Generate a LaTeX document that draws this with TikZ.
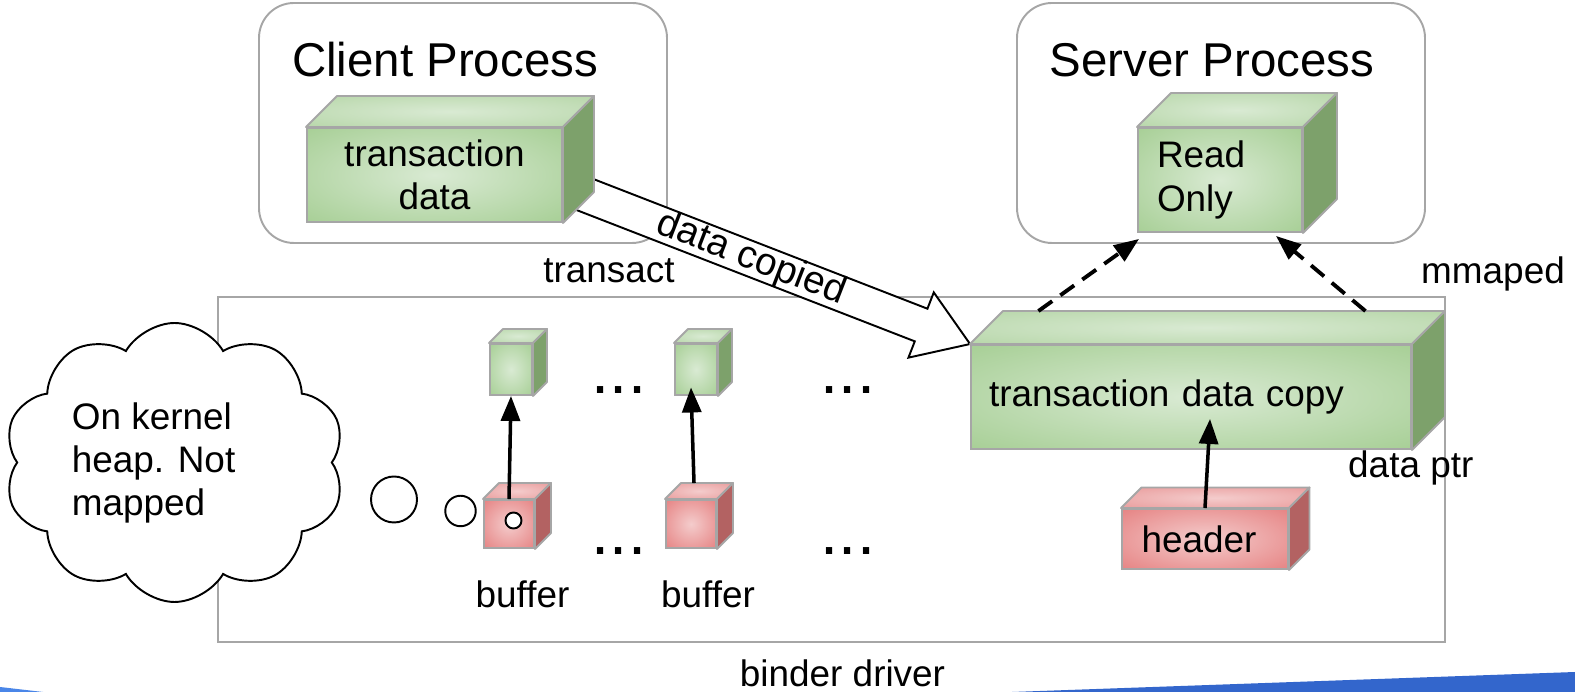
\documentclass[tikz,border=0pt]{standalone}
\usepackage{fontspec}
\setmainfont{Liberation Sans}
\usetikzlibrary{calc,positioning,shapes.symbols,arrows.meta}
\tikzset{>={Triangle[length=0.5cm,width=0.38cm]}}

\definecolor{edgegray}{HTML}{A6A6A6}
\definecolor{greenedge}{HTML}{93C47D}
\definecolor{greenmid}{HTML}{D9EAD3}
\definecolor{greentopedge}{HTML}{AACF99}
\definecolor{greenside}{HTML}{7DA16B}
\definecolor{rededge}{HTML}{E06666}
\definecolor{redmid}{HTML}{F4CCCC}
\definecolor{redtopedge}{HTML}{E58A8A}
\definecolor{redside}{HTML}{B36262}
\definecolor{barblue}{HTML}{3366CC}
\definecolor{barlight}{HTML}{4A86E8}

% soft glow on the faces of the boxes
\pgfdeclareradialshading{greenface}{\pgfpointorigin}{color(0bp)=(greenmid); color(50bp)=(greenedge)}
\pgfdeclareradialshading{greentop}{\pgfpointorigin}{color(0bp)=(greenmid); color(50bp)=(greentopedge)}
\pgfdeclareradialshading{redface}{\pgfpointorigin}{color(0bp)=(redmid); color(50bp)=(rededge)}
\pgfdeclareradialshading{redtop}{\pgfpointorigin}{color(0bp)=(redmid); color(50bp)=(redtopedge)}

\tikzset{
  every node/.style={font=\fontsize{21}{24.5}\selectfont},
  title/.style={font=\fontsize{27}{32}\selectfont},
  procbox/.style={draw=edgegray, line width=1.1pt, rounded corners=0.7cm,
    minimum width=8.16cm, minimum height=4.8cm},
  cubeedge/.style={draw=edgegray, line width=1.1pt, line join=round},
  cubefront/.style={shade, shading=#1face, draw=edgegray, line width=1.1pt,
    inner sep=0, align=center},
  heap/.style={cloud, draw=black, fill=white, line width=1.1pt, cloud puffs=10,
    cloud puff arc=120, aspect=1.22, minimum width=6.82cm, minimum height=5.58cm, inner sep=0},
  bubble/.style={circle, draw=black, fill=white, line width=1.1pt, inner sep=0},
  copyarrow/.style={draw=black, fill=white, line width=1.1pt},
  ptr/.style={->, line width=2pt},
  mapline/.style={->, line width=2.2pt, dash pattern=on 0.34cm off 0.2cm},
  more/.style={font=\fontsize{37}{40}\selectfont, inner sep=0}
}

% top and side of a box whose front is the node #1
\newcommand{\boxfaces}[3]{%
  \path (#1.north west) ++(#2,#2) coordinate (#1-bl)
        (#1.north east) ++(#2,#2) coordinate (#1-br)
        (#1.south east) ++(#2,#2) coordinate (#1-bb);
  \shadedraw[cubeedge, shading=#3top] (#1.north west) -- (#1-bl) -- (#1-br) -- (#1.north east) -- cycle;
  \filldraw[cubeedge, fill=#3side] (#1.north east) -- (#1-br) -- (#1-bb) -- (#1.south east) -- cycle;
}

\begin{document}
\begin{tikzpicture}
\useasboundingbox (0,0) rectangle (31.5,13.84);
\fill[barlight] (0,0) -- (0,0.1) -- (0.86,0) -- cycle;
\fill[barblue] (20.24,0) -- (31.5,0.4) -- (31.5,0) -- cycle;

% user space
\node[procbox] (client) at (9.26,11.38) {};
\node[procbox] (server) at (24.42,11.38) {};
\node[title, anchor=base] (clientname) at (8.9,12.3) {Client Process};
\node[title, anchor=base] (servername) at (24.24,12.3) {Server Process};

% kernel
\node[draw=edgegray, line width=1.1pt, minimum width=24.54cm, minimum height=6.9cm] (binder) at (16.63,4.45) {};
\node[anchor=base] (bindername) at (16.85,0.11) {binder driver};
\node[anchor=base] (transact) at (12.18,8.18) {transact};
\node[anchor=base east] (mmaped) at (31.42,8.16) {mmaped};
\node[anchor=base west] (dataptr) at (26.84,4.28) {data ptr};
\node[anchor=base] (bufnameA) at (10.45,1.68) {buffer};
\node[anchor=base] (bufnameB) at (14.16,1.68) {buffer};

\node[heap] (heapcloud) at (3.49,4.59) {};
\node[anchor=west, align=left, inner sep=0] (heapnote) at (1.43,4.58) {On kernel\\heap. Not\\mapped};
\node[bubble, minimum size=0.92cm] (bubA) at (7.88,3.85) {};
\node[bubble, minimum size=0.61cm] (bubB) at (9.21,3.62) {};

% fronts of the boxes
\node[cubefront=green, minimum width=5.1cm, minimum height=1.88cm] (txdata) at (8.69,10.34) {transaction\\data};
\node[cubefront=green, minimum width=3.28cm, minimum height=2.08cm, text width=2.52cm, align=left] (readonly) at (24.4,10.24) {Read\\Only};
\node[cubefront=green, minimum width=8.8cm, minimum height=2.08cm, text width=8.08cm, align=left] (txcopy) at (23.82,5.9) {transaction data copy};
\node[cubefront=red, minimum width=3.32cm, minimum height=1.2cm, text width=2.54cm, align=left] (header) at (24.1,3.06) {header};
\node[cubefront=green, minimum width=0.84cm, minimum height=1.02cm] (gbufA) at (10.22,6.45) {};
\node[cubefront=green, minimum width=0.84cm, minimum height=1.02cm] (gbufB) at (13.92,6.45) {};
\node[cubefront=red, minimum width=1cm, minimum height=0.96cm] (rbufA) at (10.18,3.36) {};
\node[cubefront=red, minimum width=1cm, minimum height=0.96cm] (rbufB) at (13.82,3.36) {};

% the copy
\coordinate (cpTail) at ($(txdata.east)+(0.36,-0.36)$);
\coordinate (cpTip) at (txcopy.north west);
\coordinate (cpBase) at ($(cpTip)!1.05cm!(cpTail)$);
\draw[copyarrow] ($(cpTail)!0.35cm!90:(cpTip)$) -- ($(cpBase)!0.35cm!90:(cpTip)$)
  -- ($(cpBase)!0.7cm!90:(cpTip)$) -- (cpTip) -- ($(cpBase)!0.7cm!-90:(cpTip)$)
  -- ($(cpBase)!0.35cm!-90:(cpTip)$) -- ($(cpTail)!0.35cm!-90:(cpTip)$) -- cycle;
\path (cpTail) -- (cpBase) node[midway, sloped, font=\fontsize{22}{26}\selectfont] (copylabel) {data copied};

\foreach \n/\d/\c in {txdata/0.62/green, readonly/0.68/green, txcopy/0.66/green,
  header/0.41/red, gbufA/0.28/green, gbufB/0.28/green, rbufA/0.32/red, rbufB/0.32/red}
  {\boxfaces{\n}{\d}{\c}}

\node[bubble, minimum size=0.32cm] (ptrdot) at ($(rbufA.center)+(0.09,0.07)$) {};

\draw[ptr] (rbufA.north) -- (gbufA.south);
\draw[ptr] ($(rbufB.north)+(0.06,0.32)$) -- ($(gbufB.south)+(-0.1,0.17)$);
\draw[ptr] (header.north) -- ($(txcopy.south)+(0.38,0.62)$);
\draw[mapline] ($(txcopy-bl)!0.08!(txcopy-br)$) -- ($(readonly.south west)+(0.04,-0.12)$);
\draw[mapline] ($(txcopy-bl)!0.82!(txcopy-br)$) -- ($(readonly.south east)+(-0.54,-0.06)$);

\foreach \p [count=\i] in {(12.38,6.04),(16.96,6.04),(12.38,2.82),(16.96,2.82)}
  \node[more] (more\i) at \p {...};
\end{tikzpicture}
\end{document}
